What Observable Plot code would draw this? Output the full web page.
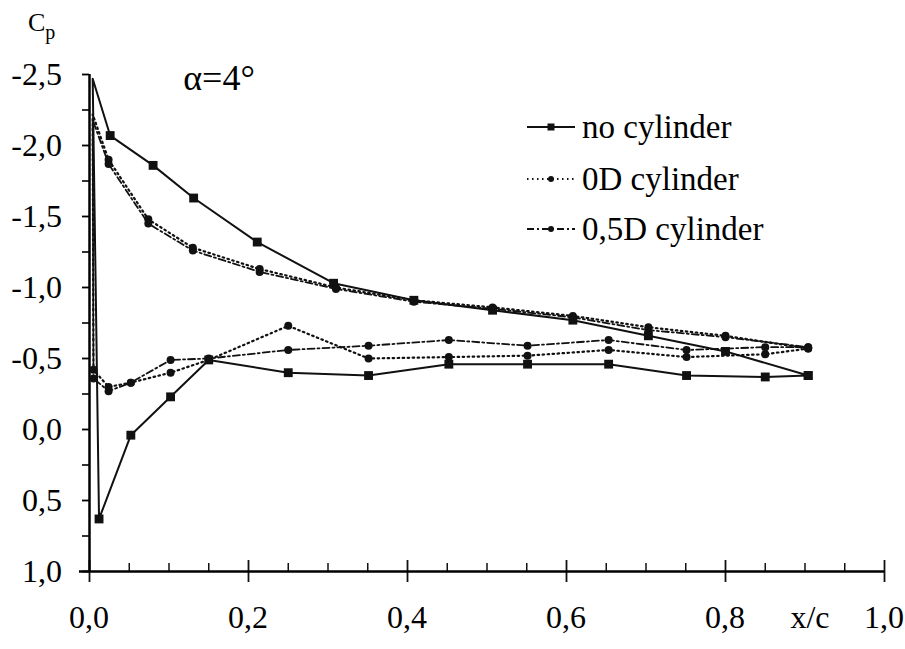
<!DOCTYPE html>
<html><head><meta charset="utf-8">
<script src="https://cdn.jsdelivr.net/npm/d3@7"></script>
<script src="https://cdn.jsdelivr.net/npm/@observablehq/plot@0.6"></script>
<style>
body{margin:0;background:#fff}
#chart{position:relative;width:905px;height:649px;background:#fff;overflow:hidden}
#chart svg{display:block;position:absolute;left:0;top:0}
.lbl{position:absolute;color:#000;white-space:nowrap}
</style>
</head><body><div id="chart"></div>
<script>
// ---- data ----
const seriesNames = ["no cylinder", "0D cylinder", "0,5D cylinder"];
const noCylUpperX  = [0.004, 0.026, 0.080, 0.131, 0.211, 0.307, 0.408, 0.507, 0.608, 0.703, 0.800, 0.904];
const noCylUpperCp = [-2.47, -2.07, -1.86, -1.63, -1.32, -1.03, -0.91, -0.84, -0.77, -0.66, -0.55, -0.38];
const noCylLowerX  = [0.012, 0.052, 0.102, 0.150, 0.250, 0.351, 0.452, 0.551, 0.653, 0.751, 0.850, 0.904];
const noCylLowerCp = [0.63, 0.04, -0.23, -0.49, -0.40, -0.38, -0.46, -0.46, -0.46, -0.38, -0.37, -0.38];

const cylUpperX   = [0.004, 0.024, 0.074, 0.130, 0.214, 0.310, 0.408, 0.507, 0.608, 0.703, 0.800, 0.904];
const d0UpperCp   = [-2.22, -1.90, -1.48, -1.28, -1.13, -1.00, -0.91, -0.86, -0.80, -0.72, -0.66, -0.57];
const d05UpperCp  = [-2.18, -1.87, -1.45, -1.26, -1.11, -0.99, -0.90, -0.85, -0.79, -0.70, -0.65, -0.58];
const cylLowerX   = [0.005, 0.024, 0.052, 0.102, 0.150, 0.250, 0.351, 0.452, 0.551, 0.653, 0.751, 0.850, 0.904];
const d0LowerCp   = [-0.42, -0.30, -0.33, -0.40, -0.49, -0.73, -0.50, -0.51, -0.52, -0.56, -0.51, -0.53, -0.57];
const d05LowerCp  = [-0.36, -0.27, -0.33, -0.49, -0.50, -0.56, -0.59, -0.63, -0.59, -0.63, -0.56, -0.58, -0.58];

const yMajor = [-2.5, -2.0, -1.5, -1.0, -0.5, 0.0, 0.5, 1.0];
const yMinor = [-2.25, -1.75, -1.25, -0.75, -0.25, 0.25, 0.75];
const xMajor = [0.0, 0.2, 0.4, 0.6, 0.8, 1.0];
const xMinor = [0.05,0.1,0.15,0.25,0.3,0.35,0.45,0.5,0.55,0.65,0.7,0.75,0.85,0.9,0.95];
const xLabels = [0.0, 0.2, 0.4, 0.6, 0.8, 1.0];
const xTitle = "x/c";
const angleLabel = "α=4°";

// ---- build loops: lower surface TE->LE, then upper LE->TE ----
function loop(name, lx, lc, ux, uc) {
  const rows = [];
  for (let i = lx.length - 1; i >= 0; i--) rows.push({series: name, x: lx[i], cp: lc[i], mark: true});
  ux.forEach((x, i) => rows.push({series: name, x, cp: uc[i], mark: i !== 0}));
  return rows;
}
const noCyl = loop(seriesNames[0], noCylLowerX, noCylLowerCp, noCylUpperX, noCylUpperCp);
const d0 = loop(seriesNames[1], cylLowerX, d0LowerCp, cylUpperX, d0UpperCp);
const d05 = loop(seriesNames[2], cylLowerX, d05LowerCp, cylUpperX, d05UpperCp);

const fmt = v => v.toFixed(1).replace(".", ",");
const W = 905, H = 649, mL = 89, mR = 21, mT = 74, mB = 78;
const innerH = H - mT - mB;

const styles = {
  [seriesNames[0]]: {dash: null, width: 2, symbol: "square", r: 5, legR: 3.5},
  [seriesNames[1]]: {dash: "1.5,3.5", width: 2.2, symbol: "circle", r: 4, legR: 3},
  [seriesNames[2]]: {dash: "7,3,2,3", width: 1.8, symbol: "circle", r: 4, legR: 3}
};

const lineMarks = [[noCyl, seriesNames[0]], [d0, seriesNames[1]], [d05, seriesNames[2]]].flatMap(([rows, name]) => {
  const s = styles[name];
  return [
    Plot.line(rows, {x: "x", y: "cp", stroke: "#111", strokeWidth: s.width, strokeDasharray: s.dash}),
    Plot.dot(rows.filter(d => d.mark), {x: "x", y: "cp", symbol: s.symbol, r: s.r, fill: "#111", stroke: "none"})
  ];
});

const plot = Plot.plot({
  width: W, height: H,
  marginLeft: mL, marginRight: mR, marginTop: mT, marginBottom: mB,
  style: {background: "#fff", overflow: "visible"},
  x: {domain: [xMajor[0], xMajor[xMajor.length - 1]], axis: null},
  y: {domain: [yMajor[0], yMajor[yMajor.length - 1]], reverse: true},
  marks: [
    Plot.axisY(yMajor, {tickSize: 7, tickFormat: () => "", strokeWidth: 1.8, label: null}),
    Plot.axisY(yMinor, {tickSize: 7, tickFormat: () => "", strokeWidth: 1.6, label: null}),
    Plot.tickX(xMajor, {x: d => d, insetTop: innerH - 11, insetBottom: -11, strokeWidth: 1.8, stroke: "#111"}),
    Plot.tickX(xMinor, {x: d => d, insetTop: innerH - 8, strokeWidth: 1.5, stroke: "#111"}),
    Plot.ruleX([xMajor[0]], {strokeWidth: 2.5, stroke: "#000"}),
    Plot.ruleY([yMajor[yMajor.length - 1]], {strokeWidth: 2.5, stroke: "#000", insetLeft: -10}),
    ...lineMarks
  ]
});

const chart = document.getElementById("chart");
chart.appendChild(plot);

// ---- text as HTML, placed with Plot's own scales ----
const sx = plot.scale("x"), sy = plot.scale("y");
function label(text, left, top, tx, ty, size = 32) {
  const d = document.createElement("div");
  d.className = "lbl";
  d.style.font = `${size}px "Liberation Serif"`;
  d.style.lineHeight = "1";
  d.textContent = text;
  d.style.left = left + "px";
  d.style.top = top + "px";
  d.style.transform = `translate(${tx}%, ${ty}%)`;
  chart.appendChild(d);
  return d;
}
const yLabelRight = mL - 27;      // right edge of the y tick labels
const xLabelMid = H - mB + 46;    // vertical centre of the x tick labels
yMajor.forEach(v => label(fmt(v), yLabelRight, sy.apply(v), -100, -50));
xLabels.forEach(v => label(fmt(v), sx.apply(v), xLabelMid, -50, -50));
label(xTitle, W - mR - 74, xLabelMid, -50, -50);
label(angleLabel, mL + 130, mT + 4, -50, -50, 36);

// C_p
const cpDiv = label("C", 28, 10, 0, 0, 26);
const sub = document.createElement("span");
sub.textContent = "p";
sub.style.font = `20px "Liberation Serif"`;
sub.style.position = "relative";
sub.style.top = "8px";
cpDiv.appendChild(sub);

// ---- legend (samples in the SVG, names as text) ----
const svg = d3.select(plot);
const legY = [127, 179, 229];
seriesNames.forEach((name, i) => {
  const s = styles[name];
  const g = svg.append("g").attr("transform", `translate(527,${legY[i]})`);
  g.append("line").attr("x1", 0).attr("x2", 48).attr("y1", 0).attr("y2", 0)
    .attr("stroke", "#111").attr("stroke-width", s.width).attr("stroke-dasharray", s.dash);
  if (s.symbol === "square") g.append("rect").attr("x", 24 - s.legR).attr("y", -s.legR).attr("width", 2 * s.legR).attr("height", 2 * s.legR).attr("fill", "#111");
  else g.append("circle").attr("cx", 24).attr("cy", 0).attr("r", s.legR).attr("fill", "#111");
  label(name, 527 + 55, legY[i], 0, -50, 33);
});
</script>
</body></html>
